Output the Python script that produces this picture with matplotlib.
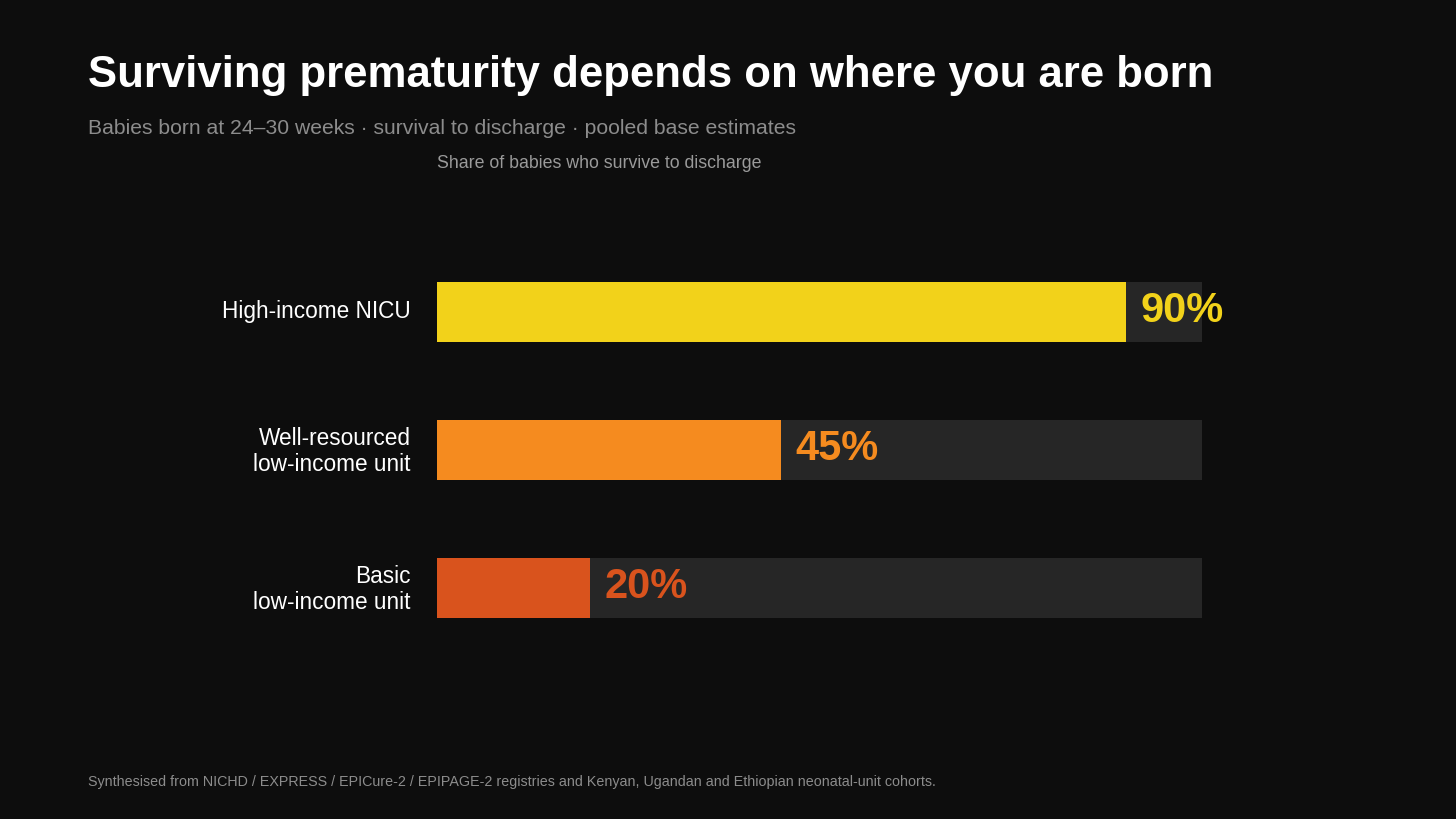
import matplotlib.pyplot as plt
from matplotlib.transforms import ScaledTranslation

categories = ["High-income NICU", "Well-resourced\nlow-income unit", "Basic\nlow-income unit"]
survival = [90, 45, 20]
bar_colors = ["#f2d21a", "#f58b1f", "#d9531d"]

bg = "#0d0d0d"
track = "#262626"

plt.rcParams['font.family'] = ['Liberation Sans', 'DejaVu Sans']

fig = plt.figure(figsize=(14.56, 8.19), dpi=100, facecolor=bg)
ax = fig.add_axes([437 / 1456, 1 - 657 / 819, 765 / 1456, 414 / 819])
ax.set_facecolor(bg)

ypos = list(range(len(categories)))
h = 60 / 138
ax.barh(ypos, [100] * len(ypos), height=h, color=track, zorder=1)
ax.barh(ypos, survival, height=h, color=bar_colors, zorder=2)

for y, v, c in zip(ypos, survival, bar_colors):
    ax.annotate(f"{v}%", xy=(v, y), xytext=(10.5, 0.5), textcoords="offset points",
                ha="left", va="center", fontsize=30, fontweight="bold", color=c, zorder=3)

ax.set_xlim(0, 100)
ax.set_ylim(2.5, -0.5)
ax.set_yticks(ypos)
ax.set_yticklabels(categories, fontsize=16.3, color="white", linespacing=1.22)
ax.tick_params(axis="y", length=0, pad=19)
# nudge labels up a touch
for lab in ax.get_yticklabels():
    lab.set_transform(lab.get_transform() + ScaledTranslation(0, 3 / 100, fig.dpi_scale_trans))
ax.set_xticks([])
for s in ax.spines.values():
    s.set_visible(False)

fig.text(88 / 1456, 1 - 76 / 819, "Surviving prematurity depends on where you are born",
         fontsize=31.5, fontweight="bold", color="white", ha="left", va="center")
fig.text(88 / 1456, 1 - 128 / 819, "Babies born at 24\u201330 weeks \u00b7 survival to discharge \u00b7 pooled base estimates",
         fontsize=15.2, color="#8c8c8c", ha="left", va="center")
fig.text(437 / 1456, 1 - 163 / 819, "Share of babies who survive to discharge",
         fontsize=12.8, color="#9a9a9a", ha="left", va="center")
fig.text(88 / 1456, 1 - 782 / 819,
         "Synthesised from NICHD / EXPRESS / EPICure-2 / EPIPAGE-2 registries and Kenyan, Ugandan and Ethiopian neonatal-unit cohorts.",
         fontsize=10.3, color="#8c8c8c", ha="left", va="center")

fig.savefig("out.png", dpi=100, facecolor=bg)
